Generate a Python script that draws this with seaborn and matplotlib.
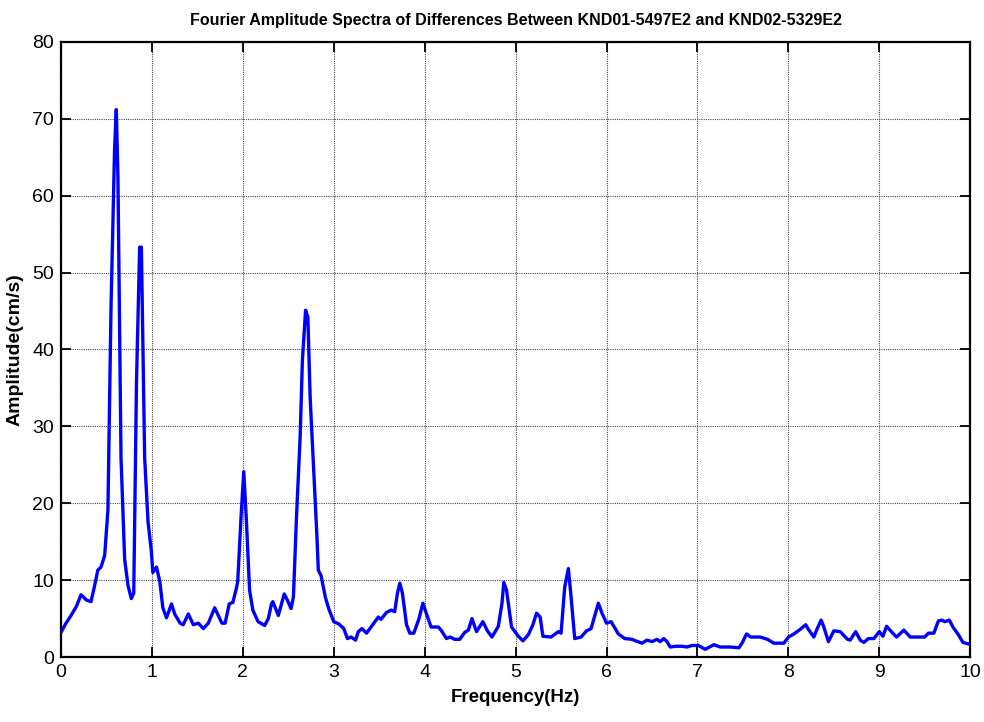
import matplotlib
matplotlib.use("Agg")
import matplotlib.pyplot as plt
import seaborn as sns
import pandas as pd
from matplotlib import font_manager

# Frequency axis (Hz) and Fourier amplitude (cm/s) of the record difference
freq = [
    0.00, 0.05, 0.11, 0.17, 0.22, 0.28, 0.33, 0.37, 0.405, 0.44, 0.48, 0.516,
    0.55, 0.589, 0.608, 0.626, 0.66, 0.70, 0.737, 0.773, 0.80, 0.83, 0.865,
    0.884, 0.92, 0.957, 0.994, 1.01, 1.05, 1.087, 1.12, 1.16, 1.215, 1.25,
    1.31, 1.344, 1.40, 1.455, 1.51, 1.565, 1.62, 1.69, 1.77, 1.805, 1.85,
    1.89, 1.93, 1.944, 1.98, 2.01, 2.037, 2.074, 2.11, 2.167, 2.24, 2.28,
    2.315, 2.33, 2.39, 2.455, 2.49, 2.53, 2.556, 2.59, 2.63, 2.655, 2.69,
    2.715, 2.74, 2.777, 2.815, 2.83, 2.86, 2.907, 2.944, 3.0, 3.055, 3.11,
    3.15, 3.19, 3.24, 3.27, 3.31, 3.36, 3.41, 3.49, 3.52, 3.58, 3.63, 3.67,
    3.70, 3.726, 3.755, 3.80, 3.836, 3.88, 3.935, 3.98, 4.02, 4.07, 4.15,
    4.18, 4.24, 4.28, 4.33, 4.385, 4.44, 4.48, 4.52, 4.57, 4.64, 4.69, 4.74,
    4.81, 4.85, 4.87, 4.90, 4.955, 5.03, 5.08, 5.14, 5.19, 5.23, 5.27, 5.30,
    5.39, 5.47, 5.50, 5.54, 5.58, 5.61, 5.65, 5.72, 5.78, 5.83, 5.91, 5.95,
    6.00, 6.05, 6.13, 6.20, 6.28, 6.32, 6.39, 6.445, 6.50, 6.555, 6.59, 6.63,
    6.665, 6.70, 6.757, 6.83, 6.885, 6.94, 7.01, 7.085, 7.18, 7.25, 7.36,
    7.456, 7.49, 7.54, 7.585, 7.69, 7.77, 7.84, 7.95, 8.00, 8.06, 8.13, 8.19,
    8.22, 8.28, 8.31, 8.36, 8.39, 8.44, 8.50, 8.57, 8.65, 8.68, 8.74, 8.79,
    8.83, 8.88, 8.94, 9.00, 9.04, 9.08, 9.14, 9.19, 9.27, 9.34, 9.41, 9.50,
    9.54, 9.60, 9.65, 9.69, 9.72, 9.77, 9.81, 9.87, 9.92, 9.98, 10.0,
]
amplitude = [
    3.2, 4.3, 5.4, 6.6, 8.1, 7.4, 7.2, 9.3, 11.3, 11.7, 13.2, 19.1,
    45.5, 66.0, 71.2, 62.6, 25.9, 12.7, 9.3, 7.6, 8.3, 35.7, 53.3,
    53.3, 25.9, 17.6, 13.7, 11.0, 11.7, 9.8, 6.4, 5.1, 6.9, 5.6,
    4.4, 4.2, 5.6, 4.2, 4.4, 3.7, 4.4, 6.4, 4.4, 4.4, 6.9,
    7.1, 9.0, 9.9, 18.2, 24.1, 18.2, 8.7, 6.1, 4.6, 4.1, 5.0,
    6.9, 7.2, 5.4, 8.2, 7.4, 6.3, 7.8, 18.2, 28.6, 38.6, 45.1,
    44.2, 33.8, 24.7, 15.6, 11.3, 10.6, 7.8, 6.3, 4.6, 4.3, 3.7,
    2.4, 2.6, 2.2, 3.3, 3.7, 3.1, 3.9, 5.2, 4.9, 5.8, 6.1, 5.9,
    8.3, 9.6, 8.3, 4.2, 3.1, 3.1, 4.9, 7.0, 5.6, 3.9, 3.9,
    3.5, 2.4, 2.6, 2.3, 2.3, 3.2, 3.5, 5.0, 3.3, 4.6, 3.4, 2.6,
    4.0, 7.0, 9.7, 8.7, 3.9, 2.7, 2.1, 2.9, 4.2, 5.7, 5.2, 2.7,
    2.6, 3.3, 3.1, 9.1, 11.5, 7.8, 2.4, 2.6, 3.4, 3.7, 7.0, 5.7,
    4.4, 4.6, 3.0, 2.4, 2.3, 2.1, 1.8, 2.2, 2.0, 2.3, 2.0, 2.4,
    2.0, 1.3, 1.4, 1.4, 1.3, 1.5, 1.5, 1.0, 1.6, 1.3, 1.3,
    1.2, 1.8, 3.0, 2.6, 2.6, 2.3, 1.8, 1.8, 2.6, 3.0, 3.6, 4.2,
    3.6, 2.6, 3.5, 4.8, 3.9, 2.0, 3.4, 3.3, 2.3, 2.2, 3.3, 2.2,
    1.9, 2.4, 2.4, 3.3, 2.7, 4.0, 3.2, 2.6, 3.5, 2.6, 2.6, 2.6,
    3.1, 3.1, 4.7, 4.8, 4.6, 4.8, 3.9, 2.9, 1.9, 1.7, 1.8,
]
x_ticks = list(range(0, 11))
y_ticks = list(range(0, 81, 10))

title = "Fourier Amplitude Spectra of Differences Between KND01-5497E2 and KND02-5329E2"

sns.set_theme(style="white")

available = {f.name for f in font_manager.fontManager.ttflist}
narrow = "Liberation Sans Narrow" if "Liberation Sans Narrow" in available else "Liberation Sans"
plt.rcParams["font.family"] = [narrow, "DejaVu Sans"]
plt.rcParams["text.color"] = "black"
plt.rcParams["axes.labelcolor"] = "black"

df = pd.DataFrame({"Frequency": freq, "Amplitude": amplitude})

fig = plt.figure(figsize=(9.84, 7.22), dpi=100)
ax = fig.add_axes([0.062, 0.090, 0.924, 0.852])

sns.lineplot(data=df, x="Frequency", y="Amplitude", ax=ax, sort=False,
             color="#0000ff", linewidth=2.4, zorder=3)

ax.set_xlim(0, 10)
ax.set_ylim(0, 80)
ax.set_xticks(x_ticks)
ax.set_yticks(y_ticks)
ax.set_xticklabels([str(t) for t in x_ticks], fontsize=14)
ax.set_yticklabels([str(t) for t in y_ticks], fontsize=14)

ax.grid(True, color="#4a4a4a", linestyle=(0, (1, 1)), linewidth=0.8, zorder=0)
ax.set_axisbelow(True)

ax.tick_params(axis="both", which="both", direction="in", length=7, width=1.3,
               top=True, right=True, bottom=True, left=True, colors="black",
               labelcolor="black", pad=5)
for s in ax.spines.values():
    s.set_visible(True)
    s.set_color("black")
    s.set_linewidth(1.6)

ax.set_xlabel("Frequency(Hz)", fontsize=13.5, fontweight="bold", labelpad=6,
              color="black")
ax.set_ylabel("Amplitude(cm/s)", fontsize=14, fontweight="bold",
              family=["Liberation Sans", "DejaVu Sans"], labelpad=6,
              color="black")
ax.set_title(title, fontsize=11.5, fontweight="bold", pad=12, color="black")

fig.savefig("out.png", dpi=100, facecolor="white")
